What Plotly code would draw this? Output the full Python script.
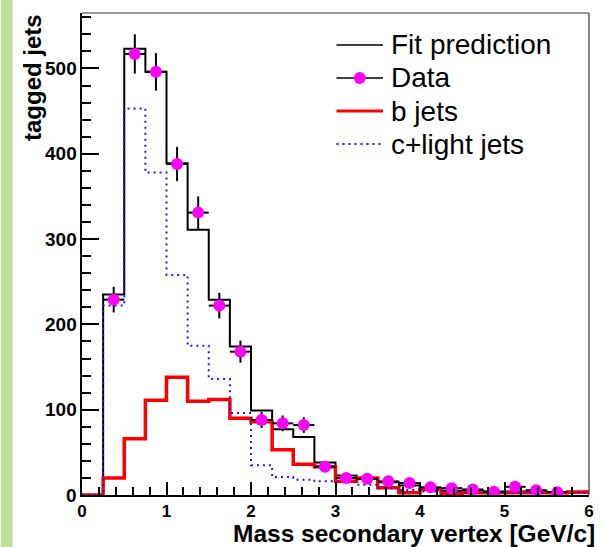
import plotly.graph_objects as go

# Secondary-vertex mass template fit: bins of 0.25 GeV/c from 0 to 6
bin_edges = [0.0, 0.25, 0.5, 0.75, 1.0, 1.25, 1.5, 1.75, 2.0, 2.25, 2.5, 2.75,
             3.0, 3.25, 3.5, 3.75, 4.0, 4.25, 4.5, 4.75, 5.0, 5.25, 5.5, 5.75, 6.0]
bin_centers = [0.125, 0.375, 0.625, 0.875, 1.125, 1.375, 1.625, 1.875, 2.125,
               2.375, 2.625, 2.875, 3.125, 3.375, 3.625, 3.875, 4.125, 4.375,
               4.625, 4.875, 5.125, 5.375, 5.625, 5.875]

fit_prediction = [0, 235, 523, 496, 389, 311, 229, 174, 99, 77, 68, 38,
                  23, 20, 15, 11, 7, 5, 5, 4, 4, 4, 3, 3]
data_counts = [None, 229, 517, 496, 388, 331, 222, 168, 88, 84, 82, 33,
               20, 19, 16, 14, 9, 8, 6.5, 3.7, 9.6, 5.6, 3.3, None]
data_errors = [None, 15, 23, 22, 20, 19, 15, 13, 9.4, 9.2, 9.1, 5.7,
               4.5, 4.4, 4.0, 3.7, 3.0, 2.8, 2.5, 1.9, 3.1, 2.4, 1.8, None]
b_jets = [0, 20, 66, 111, 138, 110, 112, 90, 86, 53, 36, 33,
          16, 20, 8.4, 2.6, 6.4, 1.5, 2.5, 2.5, 2.5, 2.5, 2.5, 3.5]
c_light_jets = [0, 222, 453, 378, 258, 175, 136, 96, 35, 21, 18, 16,
                15, 12, 8, 6, 4, 4, 3, 3, 3, 2.5, 2.5, 2.5]

y_tick_values = [0, 100, 200, 300, 400, 500]
y_tick_labels = ["0", "100", "200", "300", "400", "500"]
legend_labels = ["Fit prediction", "Data", "b jets", "c+light jets"]
x_title = "Mass secondary vertex [GeV/c]"
y_title = "tagged jets"

W, H = 603, 547
L, R, T, B = 82, 594, 13, 495  # plot frame in pixels
FONT = "Liberation Sans"


def step(values):
    # close the last bin at the upper edge
    return bin_edges, list(values) + [values[-1]]


def pxx(p):
    return (p - L) / (R - L)


def pxy(p):
    return (B - p) / (B - T)


fig = go.Figure()

xs, ys = step(fit_prediction)
fig.add_trace(go.Scatter(x=xs, y=ys, mode="lines", line_shape="hv",
                         line=dict(color="black", width=2), showlegend=False))
xs, ys = step(b_jets)
fig.add_trace(go.Scatter(x=xs, y=ys, mode="lines", line_shape="hv",
                         line=dict(color="#ff0000", width=3.5), showlegend=False))
xs, ys = step(c_light_jets)
fig.add_trace(go.Scatter(x=xs, y=ys, mode="lines", line_shape="hv",
                         line=dict(color="#1a1aff", width=2, dash="2px,4px"),
                         showlegend=False))
fig.add_trace(go.Scatter(
    x=bin_centers, y=data_counts, mode="markers",
    marker=dict(color="#ff00ff", size=12, line=dict(width=0)),
    error_y=dict(type="data", array=data_errors, color="black", thickness=2, width=0),
    error_x=dict(type="constant", value=0.125, color="black", thickness=2, width=0),
    showlegend=False))

shapes = [
    # green strip on the left
    dict(type="rect", xref="paper", yref="paper", x0=pxx(0), x1=pxx(12),
         y0=pxy(H), y1=pxy(0), fillcolor="#bfe19f", line=dict(width=0), layer="below"),
    # thin frame on top / right
    dict(type="line", xref="paper", yref="paper", x0=0, x1=1, y0=1, y1=1,
         line=dict(color="#333333", width=1.2)),
    dict(type="line", xref="paper", yref="paper", x0=1, x1=1, y0=0, y1=1,
         line=dict(color="#333333", width=1.2)),
]

# legend
rows = [45, 78, 111, 144]
line_styles = [dict(color="black", width=1.5),
               dict(color="black", width=1.5),
               dict(color="#ff0000", width=3),
               dict(color="#1a1aff", width=2, dash="2px,4px")]
annotations = []
for label, yrow, ls in zip(legend_labels, rows, line_styles):
    shapes.append(dict(type="line", xref="paper", yref="paper",
                       x0=pxx(339), x1=pxx(386), y0=pxy(yrow), y1=pxy(yrow), line=ls))
    annotations.append(dict(text=label, xref="paper", yref="paper",
                            x=pxx(392), y=pxy(yrow), xanchor="left", yanchor="middle",
                            showarrow=False, font=dict(family=FONT, size=28, color="black")))
shapes.append(dict(type="circle", xref="paper", yref="paper",
                   x0=pxx(356.5), x1=pxx(368.5), y0=pxy(rows[1] + 6), y1=pxy(rows[1] - 6),
                   fillcolor="#ff00ff", line=dict(width=0)))

# y tick labels placed close to the axis line
for val, lab in zip(y_tick_values, y_tick_labels):
    annotations.append(dict(text=lab, xref="paper", yref="y", x=pxx(79), y=val,
                            xanchor="right", yanchor="middle", showarrow=False,
                            font=dict(family=FONT, size=19, color="black", weight="bold")))

annotations.append(dict(text=y_title, xref="paper", yref="paper", textangle=-90,
                        x=pxx(32), y=pxy(12), xanchor="center", yanchor="top",
                        showarrow=False,
                        font=dict(family=FONT, size=24, color="black", weight="bold")))
annotations.append(dict(text=x_title, xref="paper", yref="paper",
                        x=pxx(602), y=pxy(533), xanchor="right", yanchor="middle",
                        showarrow=False,
                        font=dict(family=FONT, size=24.5, color="black", weight="bold")))

tickfont = dict(family=FONT, size=17, color="black", weight="bold")
fig.update_layout(
    width=W, height=H,
    margin=dict(l=L, r=W - R, t=T, b=H - B),
    paper_bgcolor="white", plot_bgcolor="white",
    shapes=shapes, annotations=annotations,
    xaxis=dict(range=[0, 6], dtick=1, tick0=0, showgrid=False, zeroline=False,
               showline=True, linecolor="black", linewidth=2,
               ticks="inside", ticklen=13, tickwidth=2, tickcolor="black",
               minor=dict(dtick=0.2, ticks="inside", ticklen=8, tickwidth=2, tickcolor="black"),
               tickfont=tickfont),
    yaxis=dict(range=[0, 565], tickvals=y_tick_values, showticklabels=False,
               showgrid=False, zeroline=False,
               showline=True, linecolor="black", linewidth=2,
               ticks="inside", ticklen=17, tickwidth=2, tickcolor="black",
               minor=dict(dtick=20, ticks="inside", ticklen=9, tickwidth=2, tickcolor="black")),
)

fig.write_html("out.html")
